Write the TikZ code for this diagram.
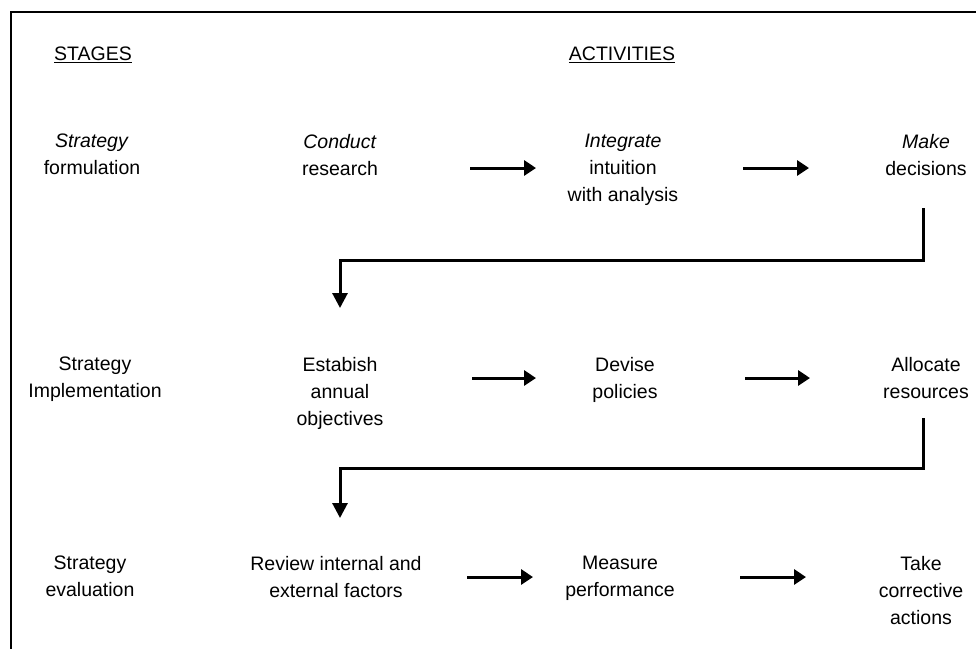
\documentclass[tikz,border=0pt]{standalone}
\usepackage{fontspec}
\setmainfont{Liberation Sans}
\usetikzlibrary{arrows.meta}
\begin{document}
\begin{tikzpicture}[x=1pt,y=-1pt,
  lbl/.style={anchor=north, inner sep=0pt, align=center, font=\fontsize{19.5}{27}\selectfont},
  arr/.style={line width=3pt, -{Triangle[length=12pt,width=15pt]}},
  elbow/.style={line width=3pt, -{Triangle[length=15pt,width=15pt]}},
  frame/.style={line width=2.5pt}]
\useasboundingbox (0,0) rectangle (976,649);
\draw[frame] (976,12) -- (11,12) -- (11,649);

% headers
\node[lbl] (stages) at (93,47) {\underline{STAGES}};
\node[lbl] (activities) at (622,47) {\underline{ACTIVITIES}};

% row 1
\node[lbl] (s1) at (92,134) {\textit{Strategy}\\formulation};
\node[lbl] (conduct) at (340,134) {\textit{Conduct}\\research};
\node[lbl] (integrate) at (623,134) {\textit{Integrate}\\intuition\\with analysis};
\node[lbl] (make) at (926,134) {\textit{Make}\\decisions};

% row 2
\node[lbl] (s2) at (95,357) {Strategy\\Implementation};
\node[lbl] (establish) at (340,357) {Estabish\\annual\\objectives};
\node[lbl] (devise) at (625,357) {Devise\\policies};
\node[lbl] (allocate) at (926,357) {Allocate\\resources};

% row 3
\node[lbl] (s3) at (90,556) {Strategy\\evaluation};
\node[lbl] (review) at (336,556) {Review internal and\\external factors};
\node[lbl] (measure) at (620,556) {Measure\\performance};
\node[lbl] (take) at (921,556) {Take\\corrective\\actions};

% arrow end points
\coordinate (a1s) at (470,168); \coordinate (a1e) at (536,168);
\coordinate (a2s) at (743,168); \coordinate (a2e) at (809,168);
\coordinate (a3s) at (472,378); \coordinate (a3e) at (536,378);
\coordinate (a4s) at (745,378); \coordinate (a4e) at (810,378);
\coordinate (a5s) at (467,577); \coordinate (a5e) at (533,577);
\coordinate (a6s) at (740,577); \coordinate (a6e) at (806,577);

\draw[arr] (a1s) -- (a1e);
\draw[arr] (a2s) -- (a2e);
\draw[arr] (a3s) -- (a3e);
\draw[arr] (a4s) -- (a4e);
\draw[arr] (a5s) -- (a5e);
\draw[arr] (a6s) -- (a6e);

% elbow connectors
\coordinate (e1s) at (923,208); \coordinate (e1e) at (340,308);
\coordinate (e2s) at (923,418); \coordinate (e2e) at (340,518);
\draw[elbow] (e1s) -- (923,260) -- (340,260) -- (e1e);
\draw[elbow] (e2s) -- (923,468) -- (340,468) -- (e2e);
\end{tikzpicture}
\end{document}
